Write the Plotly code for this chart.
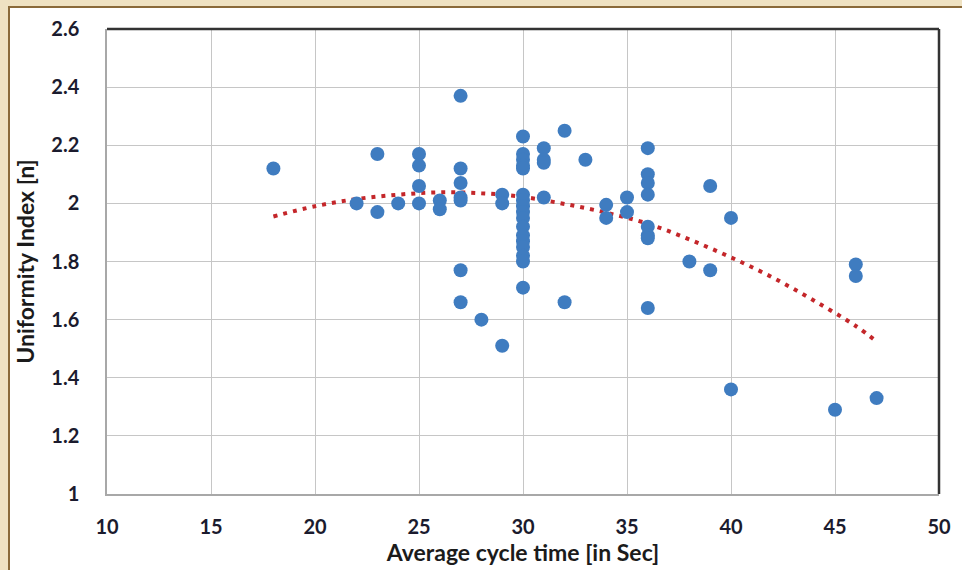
import plotly.graph_objects as go

# Scatter data: average cycle time (s) vs uniformity index
cycle_time = [18, 22, 23, 23, 24, 25, 25, 25, 25, 26, 26,
              27, 27, 27, 27, 27, 27, 27, 28, 29, 29, 29,
              30, 30, 30, 30, 30, 30, 30, 30, 30, 30, 30, 30, 30, 30, 30, 30, 30,
              31, 31, 31, 31, 32, 32, 33, 34, 34, 35, 35,
              36, 36, 36, 36, 36, 36, 36, 36, 38, 39, 39, 40, 40, 45, 46, 46, 47]
uniformity = [2.12, 2.00, 2.17, 1.97, 2.00, 2.17, 2.13, 2.06, 2.00, 2.01, 1.98,
              2.37, 2.12, 2.07, 2.02, 2.01, 1.77, 1.66, 1.60, 1.51, 2.03, 2.00,
              2.23, 2.17, 2.15, 2.13, 2.12, 2.03, 2.01, 1.99, 1.97, 1.95, 1.92, 1.89, 1.87, 1.85, 1.82, 1.80, 1.71,
              2.19, 2.15, 2.14, 2.02, 2.25, 1.66, 2.15, 1.995, 1.95, 2.02, 1.97,
              2.19, 2.10, 2.07, 2.03, 1.92, 1.89, 1.88, 1.64, 1.80, 2.06, 1.77, 1.95, 1.36, 1.29, 1.79, 1.75, 1.33]

# Polynomial trendline
trend_x = [18, 20, 22, 24, 26, 28, 30, 32, 34, 36, 38, 40, 42, 44, 46, 47]
trend_y = [1.955, 1.99, 2.015, 2.03, 2.038, 2.035, 2.022, 1.998, 1.968, 1.93, 1.876, 1.814, 1.745, 1.665, 1.578, 1.525]

x_ticks = [10, 15, 20, 25, 30, 35, 40, 45, 50]
y_ticks = [1, 1.2, 1.4, 1.6, 1.8, 2, 2.2, 2.4, 2.6]
y_tick_text = ["1", "1.2", "1.4", "1.6", "1.8", "2", "2.2", "2.4", "2.6"]

fig = go.Figure()
fig.add_trace(go.Scatter(
    x=trend_x, y=trend_y, mode="lines", line_shape="spline",
    line=dict(color="#c4262a", width=4, dash="4px,6px"),
    hoverinfo="skip", showlegend=False))
fig.add_trace(go.Scatter(
    x=cycle_time, y=uniformity, mode="markers",
    marker=dict(color="#3f7cc0", size=14, line=dict(width=0)),
    showlegend=False))

W, H = 962, 570
L, R, T, B = 107, 23, 29, 76
pw, ph = W - L - R, H - T - B

def px_x(p):
    return (p - L) / pw

def px_y(p):
    return (H - B - p) / ph

shapes = [
    dict(type="rect", xref="paper", yref="paper", layer="below",
         x0=px_x(9), x1=px_x(975), y0=px_y(7), y1=px_y(590),
         fillcolor="white", line=dict(color="#8a6a3a", width=2)),
    dict(type="line", xref="x domain", yref="y domain",
         x0=0, x1=1, y0=1, y1=1, line=dict(color="#333333", width=2.5)),
    dict(type="line", xref="x domain", yref="y domain",
         x0=1, x1=1, y0=0, y1=1, line=dict(color="#333333", width=2.5)),
]

tickfont = dict(family="Lato, Open Sans, sans-serif",
                size=20, color="#1b1b2e", weight="bold")
titlefont = dict(family="Lato, Open Sans, sans-serif",
                 size=23, color="#1b1b1b", weight="bold")

fig.update_layout(
    width=W, height=H,
    margin=dict(l=L, r=R, t=T, b=B),
    paper_bgcolor="#efe2c2",
    plot_bgcolor="#ededed",
    shapes=shapes,
    xaxis=dict(range=[10, 50], tickvals=x_ticks, showgrid=True,
               gridcolor="#c6c6c6", gridwidth=1, zeroline=False,
               showline=True, linecolor="#a8a8a8", linewidth=1.5, mirror=False,
               ticks="", tickfont=tickfont, ticklabelstandoff=14,
               title=dict(text="Average cycle time [in Sec]", font=titlefont, standoff=2)),
    yaxis=dict(range=[1, 2.6], tickvals=y_ticks, ticktext=y_tick_text, showgrid=True,
               gridcolor="#c6c6c6", gridwidth=1, zeroline=False,
               showline=True, linecolor="#a8a8a8", linewidth=1.5,
               ticks="", tickfont=tickfont, ticklabelstandoff=22,
               title=dict(text="Uniformity Index [n]", font=titlefont, standoff=10)),
)

fig.write_html("out.html", config={"displayModeBar": False},
               post_script="document.body.style.margin='0px';document.body.style.overflow='hidden';")
